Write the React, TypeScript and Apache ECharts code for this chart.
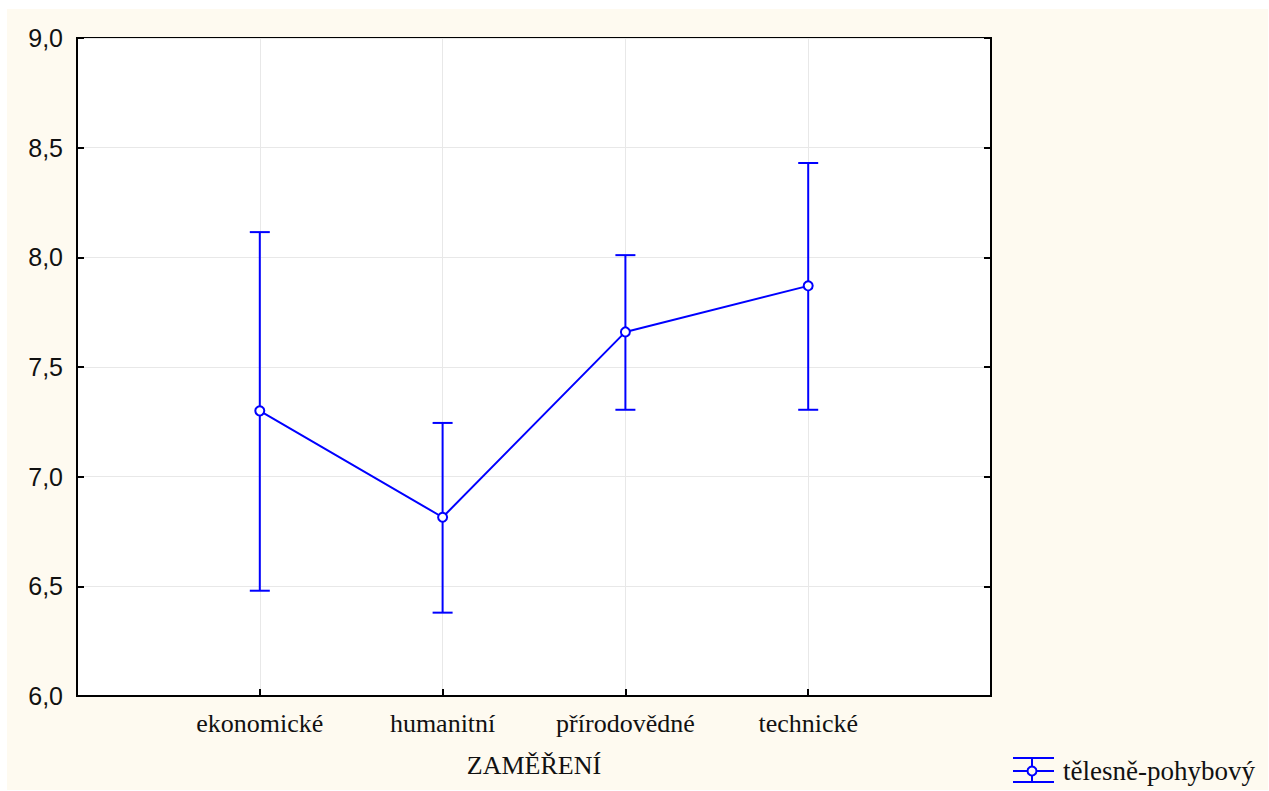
import React, { useEffect, useRef } from "react";
import * as echarts from "echarts";

const categories = ["ekonomické", "humanitní", "přírodovědné", "technické"];
const means = [7.3, 6.815, 7.66, 7.87];
const upper = [8.115, 7.245, 8.01, 8.43];
const lower = [6.48, 6.38, 7.305, 7.305];
const yTicks = [6, 6.5, 7, 7.5, 8, 8.5, 9];
const seriesName = "tělesně-pohybový";
const axisName = "ZAMĚŘENÍ";

const BLUE = "#0000ff";
const SERIF = "'Liberation Serif', 'Times New Roman', serif";
const SANS = "'Liberation Sans', Arial, sans-serif";

export default function App() {
  const ref = useRef<HTMLDivElement>(null);
  useEffect(() => {
    if (!ref.current) return;
    const chart = echarts.init(ref.current, undefined, { renderer: "svg" });
    const axisCats = ["", ...categories, ""];
    const errData = categories.map((_, i) => [i + 1, lower[i], upper[i]]);
    const meanData = categories.map((_, i) => [i + 1, means[i]]);
    const yAxisBase = {
      type: "value",
      min: yTicks[0],
      max: yTicks[yTicks.length - 1],
      interval: 0.5,
      axisLine: { show: true, lineStyle: { color: "#000", width: 2 } },
    };
    chart.setOption({
      animation: false,
      backgroundColor: "#ffffff",
      graphic: [
        {
          type: "rect",
          z: -10,
          silent: true,
          shape: { x: 7, y: 9, width: 1261, height: 781 },
          style: { fill: "#fefaf0" },
        },
        {
          type: "group",
          z: 10,
          children: [
            { type: "line", shape: { x1: 1013, y1: 758, x2: 1054, y2: 758 }, style: { stroke: BLUE, lineWidth: 2 } },
            { type: "line", shape: { x1: 1013, y1: 771, x2: 1054, y2: 771 }, style: { stroke: BLUE, lineWidth: 2 } },
            { type: "line", shape: { x1: 1013, y1: 782, x2: 1054, y2: 782 }, style: { stroke: BLUE, lineWidth: 2 } },
            { type: "line", shape: { x1: 1032, y1: 758, x2: 1032, y2: 782 }, style: { stroke: BLUE, lineWidth: 2 } },
            { type: "circle", shape: { cx: 1032, cy: 771, r: 4.5 }, style: { stroke: BLUE, lineWidth: 2, fill: "#fefaf0" } },
            {
              type: "text",
              x: 1063,
              y: 771,
              style: {
                text: seriesName,
                font: `27px ${SERIF}`,
                fill: "#111",
                verticalAlign: "middle",
                align: "left",
              },
            },
          ],
        },
      ],
      grid: {
        left: 77,
        top: 38,
        width: 914,
        height: 658,
        show: true,
        backgroundColor: "#ffffff",
        borderColor: "#000",
        borderWidth: 2,
      },
      xAxis: {
        type: "category",
        data: axisCats,
        boundaryGap: false,
        axisLine: { show: true, lineStyle: { color: "#000", width: 2 } },
        axisTick: {
          show: true,
          inside: true,
          length: 7,
          lineStyle: { color: "#000", width: 2 },
          interval: (idx: number) => idx > 0 && idx < axisCats.length - 1,
        },
        axisLabel: {
          interval: 0,
          margin: 14,
          fontFamily: SERIF,
          fontSize: 26,
          color: "#111",
        },
        splitLine: {
          show: true,
          interval: (idx: number) => idx > 0 && idx < axisCats.length - 1,
          lineStyle: { color: "#e8e8e8", width: 1 },
        },
        name: axisName,
        nameLocation: "middle",
        nameGap: 56,
        nameTextStyle: { fontFamily: SERIF, fontSize: 26, color: "#111" },
      },
      yAxis: [
        {
          ...yAxisBase,
          position: "left",
          axisTick: { show: true, inside: true, length: 7, lineStyle: { color: "#000", width: 2 } },
          axisLabel: {
            margin: 14,
            fontFamily: SANS,
            fontSize: 25,
            color: "#111",
            formatter: (v: number) => v.toFixed(1).replace(".", ","),
          },
          splitLine: { show: true, lineStyle: { color: "#e8e8e8", width: 1 } },
        },
        {
          ...yAxisBase,
          position: "right",
          axisTick: { show: true, inside: true, length: 7, lineStyle: { color: "#000", width: 2 } },
          axisLabel: { show: false },
          splitLine: { show: false },
        },
      ],
      series: [
        {
          type: "custom",
          name: seriesName + " err",
          yAxisIndex: 0,
          data: errData,
          z: 3,
          renderItem: (params: any, api: any) => {
            const x = api.value(0);
            const lo = api.coord([x, api.value(1)]);
            const hi = api.coord([x, api.value(2)]);
            const hw = 10;
            const style = { stroke: BLUE, lineWidth: 2, fill: "none" };
            return {
              type: "group",
              children: [
                { type: "line", shape: { x1: lo[0], y1: lo[1], x2: hi[0], y2: hi[1] }, style },
                { type: "line", shape: { x1: hi[0] - hw, y1: hi[1], x2: hi[0] + hw, y2: hi[1] }, style },
                { type: "line", shape: { x1: lo[0] - hw, y1: lo[1], x2: lo[0] + hw, y2: lo[1] }, style },
              ],
            };
          },
        },
        {
          type: "line",
          name: seriesName,
          yAxisIndex: 0,
          data: meanData,
          z: 4,
          symbol: "circle",
          symbolSize: 9,
          showAllSymbol: true,
          lineStyle: { color: BLUE, width: 2 },
          itemStyle: { color: "#ffffff", borderColor: BLUE, borderWidth: 2 },
        },
      ],
    });
    return () => chart.dispose();
  }, []);
  return (
    <div
      ref={ref}
      style={{ position: "fixed", left: 0, top: 0, width: 1269, height: 791 }}
    />
  );
}
